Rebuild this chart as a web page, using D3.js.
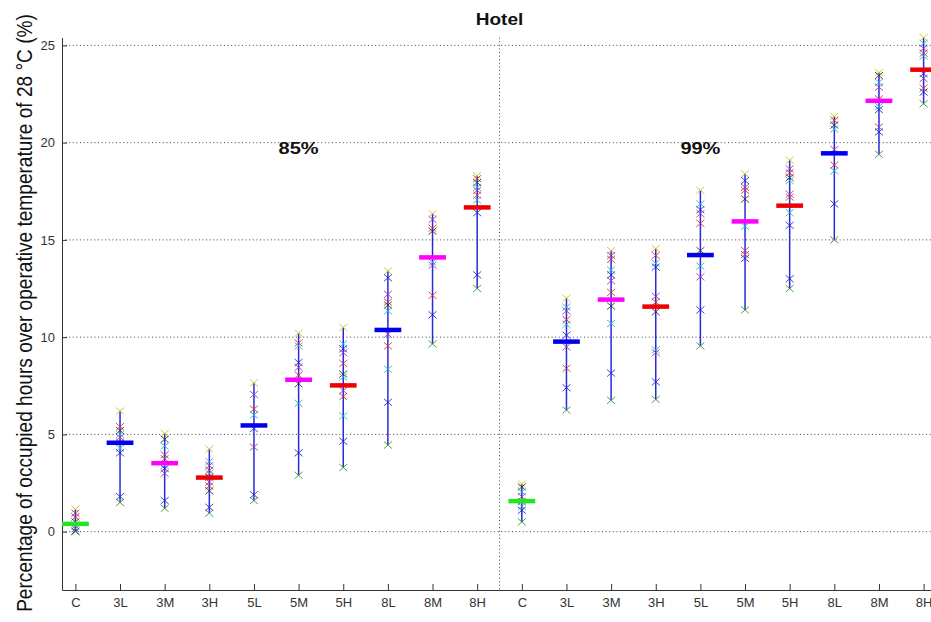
<!DOCTYPE html>
<html>
<head>
<meta charset="utf-8">
<script src="https://cdn.jsdelivr.net/npm/d3@7"></script>
<style>
  body { margin: 0; background: #fff; }
  svg { display: block; font-family: "Liberation Sans", Arial, sans-serif; }
</style>
</head>
<body>
<script>
"use strict";
(function(){
    // categories on the x axis (same set for both groups)
    const categories = ["C", "3L", "3M", "3H", "5L", "5M", "5H", "8L", "8M", "8H"]
    const groupLabels = ["85%", "99%"]
    const yTicks = [0, 5, 10, 15, 20, 25]

    // mean bar per category
    const means85 = [0.4, 4.57, 3.52, 2.78, 5.46, 7.81, 7.52, 10.37, 14.1, 16.67]
    const means99 = [1.57, 9.77, 11.93, 11.57, 14.22, 15.95, 16.76, 19.45, 22.15, 23.75]

    // individual cases (x markers), read top to bottom
    const points85 = [
        [1.15, 0.95, 0.75, 0.5, 0.3, 0.15, 0.03, 0.0],
        [6.2, 5.4, 5.2, 5.0, 4.85, 4.6, 4.3, 4.05, 1.8, 1.5],
        [5.05, 4.75, 4.4, 3.95, 3.75, 3.4, 3.25, 3.0, 1.6, 1.2],
        [4.25, 3.6, 3.4, 3.15, 3.0, 2.8, 2.55, 2.35, 2.1, 1.25, 0.95],
        [7.65, 7.05, 6.3, 6.0, 5.3, 4.35, 1.9, 1.6],
        [10.2, 9.7, 9.55, 8.7, 8.45, 8.05, 7.6, 6.6, 4.05, 2.9],
        [10.5, 9.65, 9.4, 9.2, 8.65, 8.1, 7.95, 7.25, 6.95, 5.95, 4.65, 3.3],
        [13.4, 13.05, 12.2, 11.8, 11.65, 11.35, 10.15, 9.55, 8.35, 6.65, 4.45],
        [16.35, 16.05, 15.6, 15.45, 13.85, 13.7, 12.15, 11.15, 9.65],
        [18.3, 18.15, 17.95, 17.7, 17.55, 17.3, 17.05, 16.4, 13.2, 12.5]
    ]
    const points99 = [
        [2.45, 2.3, 2.05, 1.8, 1.55, 1.3, 1.1, 0.5],
        [12.0, 11.55, 11.35, 10.9, 10.65, 10.1, 9.5, 8.4, 7.4, 6.25],
        [14.45, 14.2, 14.0, 13.45, 13.2, 12.9, 12.3, 11.6, 10.7, 8.15, 6.75],
        [14.55, 14.2, 13.8, 13.6, 12.1, 11.8, 11.3, 9.35, 9.2, 7.7, 6.8],
        [17.55, 16.85, 16.55, 16.35, 15.85, 14.45, 13.65, 13.1, 11.4, 9.55],
        [18.4, 18.05, 17.7, 17.55, 17.1, 15.7, 14.45, 14.25, 14.05, 11.4],
        [19.1, 18.65, 18.45, 18.2, 18.05, 17.35, 17.2, 16.4, 15.75, 13.0, 12.5],
        [21.35, 21.15, 20.9, 20.7, 19.65, 18.85, 18.55, 16.85, 15.0],
        [23.6, 23.45, 23.1, 22.85, 22.25, 21.85, 21.7, 20.8, 20.55, 19.4],
        [25.4, 25.1, 24.85, 24.6, 24.45, 23.55, 23.3, 22.8, 22.6, 22.0]
    ]

    const measurements = {
        width: 931,
        height: 622,
        left: 62,
        right: 937,
        top: 37.6,
        bottom: 590
    }

    // bar colour by level letter
    const barColor = { C: "#22e622", L: "#0000ee", M: "#ff00ff", H: "#ee0000" }
    // matlab-like marker colours
    const markCol = { y: "#c8c020", m: "#a030b0", r: "#d03030", k: "#303030", c: "#20b0c8", b: "#2020d0", g: "#309030" }
    const middleCycle = ["m", "r", "k", "c", "m", "r", "c", "b"]

    const allMeans = means85.concat(means99)
    const allPoints = points85.concat(points99)
    const positions = d3.range(1, allMeans.length + 1)

    let svg = d3.select("body").append("svg")
        .attr("width", measurements.width)
        .attr("height", measurements.height)

    let scaleX = d3.scaleLinear()
        .domain([0.7, 20.3])
        .range([measurements.left, measurements.right])
    let scaleY = d3.scaleLinear()
        .domain([-3, 25.4])
        .range([measurements.bottom, measurements.top])

    // dotted grid
    svg.append("g").selectAll("line")
        .data(yTicks)
        .enter().append("line")
        .attr("x1", measurements.left)
        .attr("x2", measurements.width)
        .attr("y1", d => scaleY(d))
        .attr("y2", d => scaleY(d))
        .attr("stroke", "#444")
        .attr("stroke-width", 1)
        .attr("stroke-dasharray", "1,2.6")

    // separator between the two groups
    svg.append("line")
        .attr("x1", scaleX(10.5))
        .attr("x2", scaleX(10.5))
        .attr("y1", measurements.top)
        .attr("y2", measurements.bottom)
        .attr("stroke", "#444")
        .attr("stroke-dasharray", "1,2.6")

    // axes
    let xAxis = d3.axisBottom(scaleX)
        .tickValues(positions)
        .tickFormat(d => categories[(d - 1) % categories.length])
        .tickSizeInner(-6)
        .tickSizeOuter(0)
        .tickPadding(8)
    let yAxis = d3.axisLeft(scaleY)
        .tickValues(yTicks)
        .tickSizeInner(-5)
        .tickSizeOuter(0)
        .tickPadding(7)

    let gx = svg.append("g")
        .attr("transform", `translate(0, ${measurements.bottom})`)
        .call(xAxis)
    let gy = svg.append("g")
        .attr("transform", `translate(${measurements.left}, 0)`)
        .call(yAxis)

    ;[gx, gy].forEach(g => {
        g.select(".domain").attr("stroke", "#333")
        g.selectAll(".tick line").attr("stroke", "#333")
        g.selectAll(".tick text")
            .attr("fill", "#333")
            .style("font-size", "13px")
            .style("font-family", "'Liberation Sans', Arial, sans-serif")
    })

    // vertical range lines
    let plot = svg.append("g")
    plot.selectAll(".range")
        .data(allPoints)
        .enter().append("line")
        .attr("class", "range")
        .attr("x1", (d, i) => scaleX(i + 1))
        .attr("x2", (d, i) => scaleX(i + 1))
        .attr("y1", d => scaleY(d3.max(d)))
        .attr("y2", d => scaleY(d3.min(d)))
        .attr("stroke", "#2a2ad6")
        .attr("stroke-width", 1.5)

    // x markers
    let marks = []
    allPoints.forEach((vals, i) => {
        vals.forEach((v, k) => {
            let c
            if (k === 0) c = "y"
            else if (k === vals.length - 1) c = "g"
            else if (k === vals.length - 2) c = "b"
            else c = middleCycle[(k - 1 + i) % middleCycle.length]
            marks.push({ pos: i + 1, v: v, c: c })
        })
    })
    plot.selectAll(".mark")
        .data(marks)
        .enter().append("path")
        .attr("class", "mark")
        .attr("d", d => {
            const x = scaleX(d.pos), y = scaleY(d.v)
            return `M${x - 4},${y - 3.5}L${x + 4},${y + 3.5}M${x - 4},${y + 3.5}L${x + 4},${y - 3.5}`
        })
        .attr("fill", "none")
        .attr("stroke", d => markCol[d.c])
        .attr("stroke-width", 1)
        .attr("opacity", 0.85)

    // mean bars
    plot.selectAll(".mean")
        .data(allMeans)
        .enter().append("line")
        .attr("class", "mean")
        .attr("x1", (d, i) => scaleX(i + 1 - 0.3))
        .attr("x2", (d, i) => scaleX(i + 1 + 0.3))
        .attr("y1", d => scaleY(d))
        .attr("y2", d => scaleY(d))
        .attr("stroke", (d, i) => {
            const cat = categories[i % categories.length]
            return barColor[cat[cat.length - 1]]
        })
        .attr("stroke-width", 4.5)

    // title
    svg.append("text")
        .attr("transform", `translate(${scaleX(10.5)}, 25) scale(1.12, 1)`)
        .attr("text-anchor", "middle")
        .style("font-size", "17px")
        .style("font-weight", "bold")
        .attr("fill", "#111")
        .text("Hotel")

    // group labels
    svg.selectAll(".group")
        .data(groupLabels)
        .enter().append("text")
        .attr("class", "group")
        .attr("transform", (d, i) => `translate(${scaleX(6 + i * 9)}, ${scaleY(19.4)}) scale(1.25, 1)`)
        .attr("text-anchor", "middle")
        .style("font-size", "16px")
        .style("font-weight", "bold")
        .attr("fill", "#111")
        .text(d => d)

    // y axis label, squeezed along its length to fit the plot height
    let yLabel = svg.append("text")
        .attr("text-anchor", "middle")
        .style("font-size", "22px")
        .attr("fill", "#111")
        .text("Percentage of occupied hours over operative temperature of 28 \u00b0C (%)")
    const squeeze = 598 / yLabel.node().getComputedTextLength()
    yLabel.attr("transform", `translate(32, 313) rotate(-90) scale(${squeeze}, 1)`)
})()
</script>
</body>
</html>
